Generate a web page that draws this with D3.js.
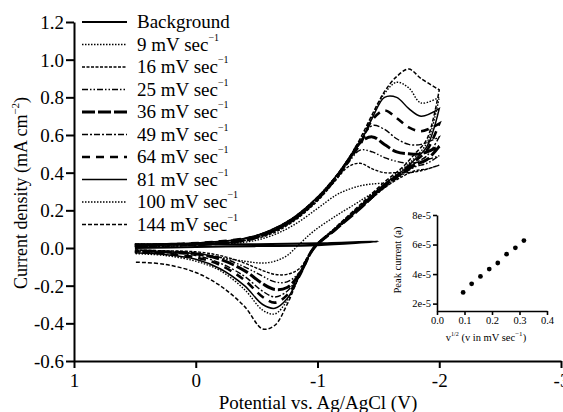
<!DOCTYPE html>
<html>
<head>
<meta charset="utf-8" />
<title>Cyclic voltammograms</title>
<style>
  html, body { margin: 0; background: #fff; }
  svg text { font-family: "Liberation Serif", "Times New Roman", serif; fill: #000; }
  .axis path, .axis line { stroke: #000; }
</style>
</head>
<body>
<div id="container"></div>
<script src="https://cdn.jsdelivr.net/npm/d3@7"></script>
<script>
// scan rates (mV/sec), the background run is drawn separately
var scanRates = [9, 16, 25, 36, 49, 64, 81, 100, 144];

// forward sweep potentials (V) and current density (mA/cm2), one row per scan rate
var fwdPotential = [0.5, 0.2, -0.1, -0.4, -0.6, -0.8, -1.0, -1.15, -1.25, -1.35, -1.45, -1.55, -1.65, -1.75, -1.85, -2.0];
var fwdCurrent = [
  [0.01, 0.01, 0.02, 0.03, 0.06, 0.12, 0.21, 0.28, 0.31, 0.33, 0.34, 0.34, null, null, null, null], // 9
  [0.01, 0.01, 0.02, 0.04, 0.07, 0.14, 0.25, 0.36, 0.43, 0.45, 0.42, 0.40, 0.40, 0.40, 0.41, 0.44], // 16
  [0.01, 0.01, 0.02, 0.04, 0.08, 0.15, 0.26, 0.37, 0.45, 0.52, 0.51, 0.48, 0.46, 0.45, 0.46, 0.49], // 25
  [0.01, 0.02, 0.02, 0.04, 0.08, 0.15, 0.26, 0.37, 0.46, 0.56, 0.59, 0.55, 0.51, 0.50, 0.50, 0.54], // 36
  [0.01, 0.02, 0.03, 0.05, 0.08, 0.15, 0.26, 0.37, 0.46, 0.56, 0.65, 0.63, 0.58, 0.55, 0.55, 0.59], // 49
  [0.01, 0.02, 0.03, 0.05, 0.08, 0.15, 0.26, 0.37, 0.46, 0.55, 0.68, 0.73, 0.69, 0.64, 0.62, 0.66], // 64
  [0.02, 0.02, 0.03, 0.05, 0.09, 0.16, 0.27, 0.38, 0.47, 0.56, 0.69, 0.80, 0.80, 0.74, 0.70, 0.74], // 81
  [0.02, 0.02, 0.03, 0.05, 0.09, 0.16, 0.27, 0.38, 0.47, 0.57, 0.70, 0.82, 0.88, 0.85, 0.77, 0.80], // 100
  [0.02, 0.02, 0.03, 0.05, 0.09, 0.16, 0.27, 0.38, 0.47, 0.58, 0.71, 0.83, 0.91, 0.95, 0.90, 0.84]  // 144
];

// reverse sweep
var revPotential = [-2.0, -1.9, -1.8, -1.7, -1.55, -1.35, -1.15, -0.97, -0.85, -0.75, -0.65, -0.55, -0.4, -0.2, 0.0, 0.25, 0.5];
var revCurrent = [
  [null, null, null, null, null, 0.25, 0.17, 0.09, 0.02, -0.04, -0.07, -0.08, -0.07, -0.05, -0.03, -0.02, -0.015], // 9
  [0.44, 0.42, 0.41, 0.38, 0.32, 0.21, 0.10, 0.0, -0.11, -0.14, -0.14, -0.12, -0.08, -0.04, -0.02, -0.015, -0.01],  // 16
  [0.49, 0.45, 0.43, 0.39, 0.32, 0.21, 0.10, 0.0, -0.13, -0.18, -0.18, -0.15, -0.10, -0.05, -0.03, -0.02, -0.01],   // 25
  [0.54, 0.47, 0.44, 0.40, 0.33, 0.21, 0.10, 0.0, -0.14, -0.21, -0.22, -0.19, -0.12, -0.06, -0.03, -0.02, -0.015],  // 36
  [0.59, 0.49, 0.45, 0.40, 0.33, 0.215, 0.10, 0.0, -0.14, -0.23, -0.26, -0.23, -0.15, -0.08, -0.04, -0.025, -0.02], // 49
  [0.66, 0.52, 0.46, 0.41, 0.33, 0.22, 0.10, 0.0, -0.15, -0.25, -0.29, -0.26, -0.17, -0.09, -0.05, -0.03, -0.02],   // 64
  [0.74, 0.54, 0.47, 0.41, 0.34, 0.22, 0.105, 0.0, -0.15, -0.27, -0.32, -0.30, -0.20, -0.11, -0.06, -0.035, -0.025], // 81
  [0.80, 0.56, 0.48, 0.42, 0.34, 0.225, 0.11, 0.0, -0.15, -0.28, -0.35, -0.33, -0.22, -0.12, -0.07, -0.04, -0.03],  // 100
  [0.84, 0.58, 0.50, 0.43, 0.35, 0.23, 0.11, 0.0, -0.15, -0.30, -0.41, -0.43, -0.31, -0.20, -0.13, -0.087, -0.075]  // 144
];

// background scan (no analyte)
var bgPotential = [0.5, 0.0, -0.5, -1.0, -1.5, -1.0, -0.5, 0.0, 0.5];
var bgCurrent = [0.02, 0.02, 0.02, 0.025, 0.035, 0.015, 0.01, 0.005, 0.0];

// inset: peak current vs sqrt of scan rate
var insetX = [0.095, 0.126, 0.158, 0.19, 0.221, 0.253, 0.285, 0.316];
var insetY = [2.76e-5, 3.34e-5, 3.84e-5, 4.34e-5, 4.75e-5, 5.35e-5, 5.78e-5, 6.27e-5];

var xTicks = [1, 0, -1, -2, -3];
var yTicks = [-0.6, -0.4, -0.2, 0.0, 0.2, 0.4, 0.6, 0.8, 1.0, 1.2];
var insetXTicks = [0.0, 0.1, 0.2, 0.3, 0.4];
var insetYTicks = [2e-5, 4e-5, 6e-5, 8e-5];

var legendLabels = ["Background", "9 mV sec", "16 mV sec", "25 mV sec", "36 mV sec",
  "49 mV sec", "64 mV sec", "81 mV sec", "100 mV sec", "144 mV sec"];

// line styles: [dasharray, width] for background then each scan rate
var styles = [
  ["none", 2], ["1.5,1.5", 1.4], ["3,1.5", 1.4], ["6,2,1.5,2,1.5,2", 1.4], ["13,3", 3],
  ["6,2,2,2", 1.4], ["8,6", 2.6], ["none", 1.5], ["1.5,1.5", 1.4], ["4,2", 1.5]
];

var W = 563, H = 412;
var svg = d3.select("#container").append("svg")
  .attr("width", W).attr("height", H);

var x = d3.scaleLinear().domain([1, -3]).range([74, 561]);
var y = d3.scaleLinear().domain([-0.6, 1.2]).range([361, 22]);

var line = d3.line()
  .x(function(d) { return x(d[0]); })
  .y(function(d) { return y(d[1]); })
  .curve(d3.curveCatmullRom.alpha(0.5));

// curves
var curves = svg.append("g").attr("class", "curves");

var bg = bgPotential.map(function(p, i) { return [p, bgCurrent[i]]; });
curves.append("path").datum(bg)
  .attr("d", line).attr("fill", "none").attr("stroke", "#000")
  .attr("stroke-width", styles[0][1]);

scanRates.forEach(function(r, k) {
  var pts = [];
  fwdPotential.forEach(function(p, i) {
    if (fwdCurrent[k][i] != null) pts.push([p, fwdCurrent[k][i]]);
  });
  revPotential.forEach(function(p, i) {
    if (revCurrent[k][i] != null) pts.push([p, revCurrent[k][i]]);
  });
  var s = styles[k + 1];
  curves.append("path").datum(pts)
    .attr("d", line)
    .attr("fill", "none")
    .attr("stroke", "#000")
    .attr("stroke-width", s[1])
    .attr("stroke-dasharray", s[0]);
});

// axes
var yAxis = svg.append("g").attr("class", "axis")
  .attr("transform", "translate(74,0)")
  .call(d3.axisLeft(y).tickValues(yTicks).tickSize(8).tickSizeOuter(0)
    .tickFormat(function(d) { return d.toFixed(1); }));
var xAxis = svg.append("g").attr("class", "axis")
  .attr("transform", "translate(0,361)")
  .call(d3.axisBottom(x).tickValues(xTicks).tickSize(7).tickSizeOuter(0)
    .tickFormat(function(d) { return String(d); }));

svg.selectAll(".axis path").attr("stroke-width", 2);
svg.selectAll(".axis line").attr("stroke-width", 2);
yAxis.selectAll("text").attr("font-size", 19).attr("x", -10).attr("dy", "0.35em");
xAxis.selectAll("text").attr("font-size", 19).attr("y", 11).attr("dy", "0.8em");
svg.selectAll(".axis text").style("font-family", "Liberation Serif, serif").attr("fill", "#000");

// axis titles
var yt = svg.append("text")
  .attr("transform", "translate(27,193) rotate(-90)")
  .attr("text-anchor", "middle").attr("font-size", 18);
yt.append("tspan").text("Current density (mA cm");
yt.append("tspan").attr("font-size", 11).attr("dy", -8).text("\u22122");
yt.append("tspan").attr("dy", 8).text(")");

svg.append("text")
  .attr("x", 318).attr("y", 409)
  .attr("text-anchor", "middle").attr("font-size", 19)
  .text("Potential vs. Ag/AgCl (V)");

// legend
var leg = svg.append("g").attr("class", "legend");
legendLabels.forEach(function(lab, i) {
  var ly = 22 + i * 22.5;
  leg.append("line")
    .attr("x1", 82).attr("x2", 127).attr("y1", ly).attr("y2", ly)
    .attr("stroke", "#000")
    .attr("stroke-width", styles[i][1])
    .attr("stroke-dasharray", styles[i][0]);
  var t = leg.append("text").attr("x", 137).attr("y", ly + 6).attr("font-size", 19);
  t.append("tspan").text(lab);
  if (i > 0) t.append("tspan").attr("font-size", 10).attr("dy", -10).text("\u22121");
});

// inset
var ix = d3.scaleLinear().domain([0, 0.4]).range([437, 547]);
var iy = d3.scaleLinear().domain([1.5e-5, 8e-5]).range([311, 215]);

var inset = svg.append("g").attr("class", "inset");
var iyAxis = inset.append("g").attr("class", "axis")
  .attr("transform", "translate(437,0)")
  .call(d3.axisLeft(iy).tickValues(insetYTicks).tickSize(4).tickSizeOuter(0)
    .tickFormat(function(d) { return Math.round(d * 1e5) + "e-5"; }));
var ixAxis = inset.append("g").attr("class", "axis")
  .attr("transform", "translate(0,311)")
  .call(d3.axisBottom(ix).tickValues(insetXTicks).tickSize(4).tickSizeOuter(0)
    .tickFormat(function(d) { return d.toFixed(1); }));
inset.selectAll(".axis path").attr("stroke-width", 1.6);
inset.selectAll(".axis line").attr("stroke-width", 1.6);
inset.selectAll(".axis text").attr("font-size", 10.5).attr("fill", "#000")
  .style("font-family", "Liberation Serif, serif");
iyAxis.selectAll("text").attr("x", -6);
ixAxis.selectAll("text").attr("y", 6);

inset.selectAll("circle").data(insetX).enter().append("circle")
  .attr("cx", function(d) { return ix(d); })
  .attr("cy", function(d, i) { return iy(insetY[i]); })
  .attr("r", 2.4).attr("fill", "#000");

inset.append("text")
  .attr("transform", "translate(401,260) rotate(-90)")
  .attr("text-anchor", "middle").attr("font-size", 10.5)
  .text("Peak current (a)");

var ixt = inset.append("text")
  .attr("x", 486).attr("y", 341)
  .attr("text-anchor", "middle").attr("font-size", 10.5);
ixt.append("tspan").text("v");
ixt.append("tspan").attr("font-size", 6).attr("dy", -5).text("1/2");
ixt.append("tspan").attr("dy", 5).text(" (v in mV sec");
ixt.append("tspan").attr("font-size", 7).attr("dy", -5).text("\u22121");
ixt.append("tspan").attr("dy", 5).text(")");
</script>
</body>
</html>
